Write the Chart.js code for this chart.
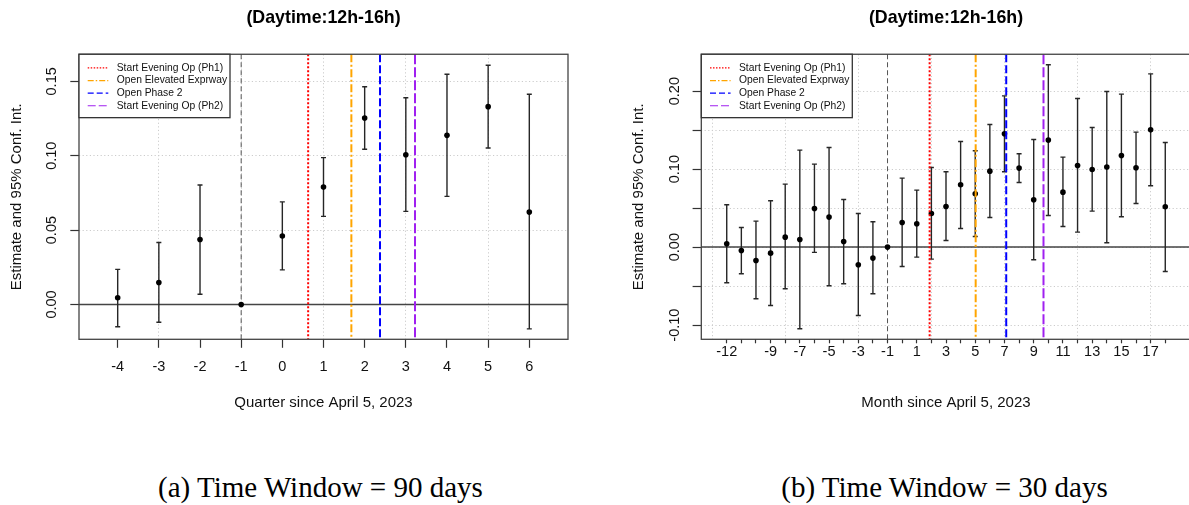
<!DOCTYPE html>
<html>
<head>
<meta charset="utf-8">
<script src="https://cdn.jsdelivr.net/npm/chart.js@4.4.1/dist/chart.umd.min.js"></script>
<style>
  html, body { margin: 0; padding: 0; background: #fff; overflow: hidden; }
  #wrap { position: relative; width: 1189px; height: 505px; overflow: hidden; }
  canvas { position: absolute; top: 0; }
  #c1 { left: 0; }
  #c2 { left: 594px; }
  .cap { position: absolute; top: 472.7px; font-family: "Liberation Serif", "Times New Roman", serif;
         font-size: 29px; line-height: 29px; color: #000; text-align: center; white-space: nowrap; }
</style>
</head>
<body>
<div id="wrap">
  <canvas id="c1" width="594" height="420"></canvas>
  <canvas id="c2" width="600" height="420"></canvas>
  <div class="cap" style="left:0;width:641px">(a) Time Window = 90 days</div>
  <div class="cap" style="left:700px;width:489px">(b) Time Window = 30 days</div>
</div>
<script>
// values
const quarters    = [-4, -3, -2, -1, 0, 1, 2, 3, 4, 5, 6];
const quarterEst  = [0.0045, 0.0148, 0.0437, 0, 0.0460, 0.0789, 0.1254, 0.1007, 0.1137, 0.1330, 0.0621];
const quarterLow  = [-0.0150, -0.0119, 0.0069, 0, 0.0233, 0.0592, 0.1043, 0.0626, 0.0727, 0.1052, -0.0164];
const quarterHigh = [0.0236, 0.0417, 0.0803, 0, 0.0690, 0.0987, 0.1464, 0.1390, 0.1548, 0.1608, 0.1413];

const months    = [-12, -11, -10, -9, -8, -7, -6, -5, -4, -3, -2, -1, 0, 1, 2, 3, 4, 5, 6, 7, 8, 9, 10, 11, 12, 13, 14, 15, 16, 17, 18];
const monthEst  = [0.0043, -0.0043, -0.0171, -0.0077, 0.0128, 0.0098, 0.0496, 0.0385, 0.0073, -0.0226, -0.0141, 0,
                   0.0316, 0.0299, 0.0432, 0.0521, 0.0799, 0.0684, 0.0974, 0.1453, 0.1013, 0.0607, 0.1372, 0.0705,
                   0.1047, 0.0996, 0.1026, 0.1175, 0.1017, 0.1504, 0.0517];
const monthLow  = [-0.0457, -0.0342, -0.0662, -0.0748, -0.0534, -0.1047, -0.0068, -0.0496, -0.0470, -0.0876, -0.0598, 0,
                   -0.0248, -0.0128, -0.0154, 0.0085, 0.0239, 0.0137, 0.0380, 0.0966, 0.0829, -0.0162, 0.0406, 0.0265,
                   0.0192, 0.0462, 0.0056, 0.0389, 0.0560, 0.0786, -0.0312];
const monthHigh = [0.0543, 0.0252, 0.0333, 0.0594, 0.0808, 0.1244, 0.1064, 0.1278, 0.0611, 0.0432, 0.0325, 0,
                   0.0885, 0.0731, 0.1021, 0.0966, 0.1355, 0.1235, 0.1573, 0.1940, 0.1197, 0.1380, 0.2338, 0.1154,
                   0.1906, 0.1534, 0.1996, 0.1962, 0.1474, 0.2222, 0.1342];

// event dates (in quarters / months since April 5, 2023)
const eventLabels   = ['Start Evening Op (Ph1)', 'Open Elevated Exprway', 'Open Phase 2', 'Start Evening Op (Ph2)'];
const quarterEvents = [0.627, 1.677, 2.373, 3.223];
const monthEvents   = [1.88, 5.03, 7.12, 9.67];

// ticks
const quarterTickLabels = [-4, -3, -2, -1, 0, 1, 2, 3, 4, 5, 6];
const quarterGrid       = [-3, -1, 1, 3, 5];
const monthTickLabels   = [-12, -9, -7, -5, -3, -1, 1, 3, 5, 7, 9, 11, 13, 15, 17];
const monthGrid         = [-13, -8, -3, 2, 7, 12, 17];
const quarterYTicks     = [0, 0.05, 0.10, 0.15];
const quarterYLabels    = [0, 0.05, 0.10, 0.15];
const monthYTicks       = [-0.10, -0.05, 0, 0.05, 0.10, 0.15, 0.20];
const monthYLabels      = [-0.10, 0, 0.10, 0.20];

const FONT = '"Liberation Sans", Arial, sans-serif';
const eventColors = ['#ff0000', '#ffa500', '#0000ff', '#a020f0'];
const eventDash   = [[2, 2], [8, 2.5, 2, 2.5], [8, 3], [10, 3]];
const legendDash  = [[1.5, 1.5], [6, 2, 1.5, 2], [6, 3], [8, 3]];

Chart.defaults.font.family = FONT;

function fmt(v) {
  return Math.abs(v) < 1e-9 ? '0.00' : v.toFixed(2);
}

function seg(ctx, x1, y1, x2, y2, color, width, dash) {
  ctx.save();
  ctx.strokeStyle = color;
  ctx.lineWidth = width;
  ctx.setLineDash(dash);
  ctx.beginPath();
  ctx.moveTo(x1, y1);
  ctx.lineTo(x2, y2);
  ctx.stroke();
  ctx.restore();
}

function buildChart(id, cfg) {
  const xTicks = Array.from(new Set(cfg.cats.concat(cfg.xGrid))).sort((a, b) => a - b);

  const overlay = {
    id: 'overlay',
    beforeDatasetsDraw(chart) {
      const {ctx, chartArea: a, scales: {x, y}} = chart;
      // zero line and reference period line (under the points)
      const y0 = y.getPixelForValue(0);
      seg(ctx, a.left, y0, a.right, y0, '#444', 1.5, []);
      const xr = x.getPixelForValue(-1);
      seg(ctx, xr, a.top, xr, a.bottom, '#555', 1, [5, 3]);
      // confidence intervals
      ctx.save();
      ctx.strokeStyle = '#262626';
      ctx.lineWidth = 1.4;
      cfg.cats.forEach((c, i) => {
        if (cfg.low[i] === cfg.high[i]) return;
        const px = x.getPixelForValue(c);
        const y1 = y.getPixelForValue(cfg.low[i]);
        const y2 = y.getPixelForValue(cfg.high[i]);
        ctx.beginPath();
        ctx.moveTo(px, y1); ctx.lineTo(px, y2);
        ctx.moveTo(px - 2.5, y1); ctx.lineTo(px + 2.5, y1);
        ctx.moveTo(px - 2.5, y2); ctx.lineTo(px + 2.5, y2);
        ctx.stroke();
      });
      ctx.restore();
    },
    afterDatasetsDraw(chart) {
      const {ctx, chartArea: a, scales: {x}} = chart;
      ctx.save();
      ctx.beginPath();
      ctx.rect(a.left, a.top, a.right - a.left, a.bottom - a.top);
      ctx.clip();
      cfg.events.forEach((v, i) => {
        const px = x.getPixelForValue(v);
        seg(ctx, px, a.top, px, a.bottom, eventColors[i], 2, eventDash[i]);
      });
      ctx.restore();
      ctx.save();
      ctx.strokeStyle = '#444';
      ctx.lineWidth = 1.3;
      ctx.strokeRect(a.left, a.top, a.right - a.left, a.bottom - a.top);
      ctx.restore();
    },
    afterDraw(chart) {
      const {ctx, chartArea: a} = chart;
      const L = a.left, T = a.top, W = 151, H = 63.4;
      ctx.save();
      ctx.fillStyle = '#fff';
      ctx.fillRect(L, T, W, H);
      ctx.strokeStyle = '#333';
      ctx.lineWidth = 1.3;
      ctx.strokeRect(L, T, W, H);
      ctx.font = '10.3px ' + FONT;
      ctx.textBaseline = 'middle';
      ctx.textAlign = 'left';
      ctx.fillStyle = '#111';
      eventLabels.forEach((lab, i) => {
        const yy = T + 13.7 + i * 12.6;
        seg(ctx, L + 8.7, yy, L + 29.3, yy, eventColors[i], 1.2, legendDash[i]);
        ctx.fillText(lab, L + 37.7, yy);
      });
      ctx.restore();
    }
  };

  return new Chart(document.getElementById(id), {
    type: 'scatter',
    data: {
      datasets: [{
        data: cfg.cats.map((c, i) => ({x: c, y: cfg.est[i]})),
        pointRadius: 2.8,
        pointHoverRadius: 2.8,
        pointBackgroundColor: '#000',
        pointBorderWidth: 0
      }]
    },
    options: {
      responsive: false,
      animation: false,
      events: [],
      layout: {padding: {left: 0, right: cfg.padRight, top: 0, bottom: 0}},
      plugins: {
        legend: {display: false},
        tooltip: {enabled: false},
        title: {
          display: true,
          text: '(Daytime:12h-16h)',
          fullSize: false,
          color: '#000',
          font: {size: 17.8, weight: 'bold'},
          padding: {top: 7.6, bottom: 25.3}
        }
      },
      scales: {
        x: {
          type: 'linear',
          bounds: 'data',
          min: cfg.xMin,
          max: cfg.xMax,
          afterBuildTicks: s => { s.ticks = xTicks.map(v => ({value: v})); },
          afterFit: s => { s.height = 80.7; },
          border: {display: false, dash: [1.2, 2.4]},
          grid: {
            color: c => (c.tick && cfg.xGrid.includes(c.tick.value)) ? '#cccccc' : 'rgba(0,0,0,0)',
            lineWidth: 1,
            tickLength: cfg.xTickLen,
            tickWidth: 1.2,
            tickColor: c => (c.tick && cfg.cats.includes(c.tick.value)) ? '#333' : 'rgba(0,0,0,0)'
          },
          ticks: {
            autoSkip: false,
            minRotation: 0,
            maxRotation: 0,
            padding: cfg.xTickPad,
            color: '#111',
            font: {size: 14.5},
            callback: v => cfg.xLabels.includes(v) ? String(v) : ''
          },
          title: {
            display: true,
            text: cfg.xTitle,
            color: '#111',
            font: {size: 15},
            padding: {top: 0, bottom: 7.7}
          }
        },
        y: {
          type: 'linear',
          bounds: 'data',
          min: cfg.yMin,
          max: cfg.yMax,
          afterBuildTicks: s => { s.ticks = cfg.yTicks.map(v => ({value: v})); },
          afterFit: s => { s.width = cfg.yWidth; },
          border: {display: false, dash: [1.2, 2.4]},
          grid: {
            color: '#cccccc',
            lineWidth: 1,
            tickLength: 8.7,
            tickWidth: 1.2,
            tickColor: '#333'
          },
          ticks: {
            autoSkip: false,
            minRotation: 90,
            maxRotation: 90,
            crossAlign: 'center',
            padding: cfg.yTickPad,
            color: '#111',
            font: {size: 14.5},
            callback: v => cfg.yLabels.some(l => Math.abs(l - v) < 1e-9) ? fmt(v) : ''
          },
          title: {
            display: true,
            text: 'Estimate and 95% Conf. Int.',
            color: '#111',
            font: {size: 15},
            padding: {top: cfg.yTitlePad, bottom: 0}
          }
        }
      }
    },
    plugins: [overlay]
  });
}

buildChart('c1', {
  cats: quarters, est: quarterEst, low: quarterLow, high: quarterHigh,
  events: quarterEvents,
  xGrid: quarterGrid, xLabels: quarterTickLabels,
  xMin: -4.94, xMax: 6.94, yMin: -0.0234, yMax: 0.1682,
  yTicks: quarterYTicks, yLabels: quarterYLabels,
  xTitle: 'Quarter since April 5, 2023',
  padRight: 26, yWidth: 79, yTickPad: 4.5, yTitlePad: 7.7,
  xTickLen: 8.5, xTickPad: 10.2
});

buildChart('c2', {
  cats: months, est: monthEst, low: monthLow, high: monthHigh,
  events: monthEvents,
  xGrid: monthGrid, xLabels: monthTickLabels,
  xMin: -13.74, xMax: 19.74, yMin: -0.1182, yMax: 0.2473,
  yTicks: monthYTicks, yLabels: monthYLabels,
  xTitle: 'Month since April 5, 2023',
  padRight: 3.3, yWidth: 107.3, yTickPad: 1.2, yTitlePad: 36,
  xTickLen: 4, xTickPad: 0.3
});
</script>
</body>
</html>
